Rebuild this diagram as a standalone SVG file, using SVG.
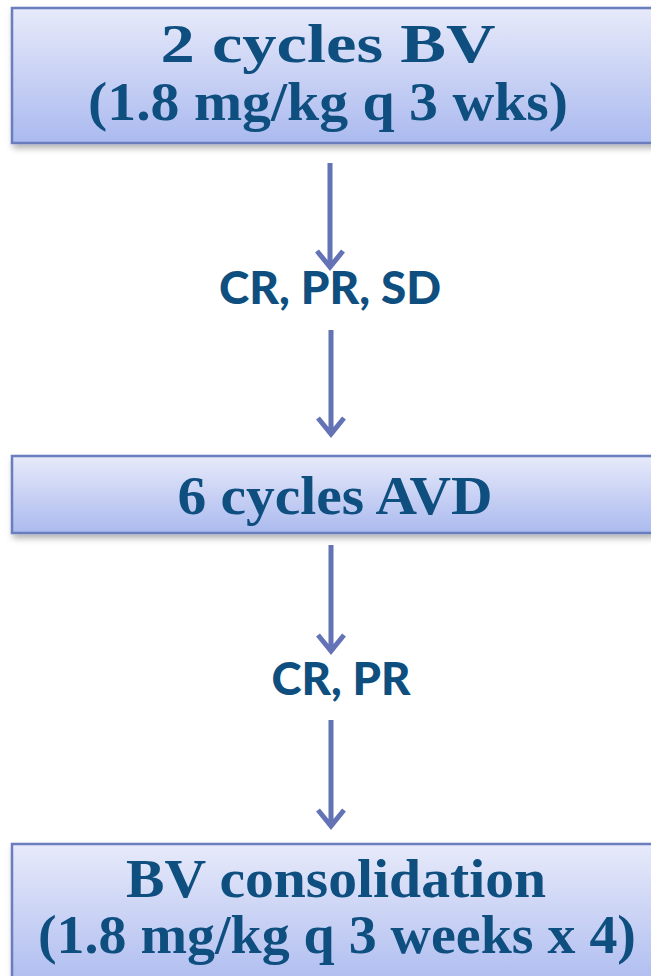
<svg xmlns="http://www.w3.org/2000/svg" width="651" height="976" viewBox="0 0 651 976">
<defs>
<linearGradient id="boxfill" x1="0" y1="0" x2="0" y2="1">
<stop offset="0" stop-color="#E7EAFA"/>
<stop offset="1" stop-color="#ABBAEF"/>
</linearGradient>
<filter id="shadow" x="-5%" y="-10%" width="115%" height="130%">
<feDropShadow dx="2" dy="4" stdDeviation="3" flood-color="#000" flood-opacity="0.3"/>
</filter>
<style>
.box{fill:url(#boxfill);stroke:#6A7EBE;stroke-width:2.5;filter:url(#shadow)}
.t{font-family:"Liberation Serif","DejaVu Serif",serif;font-weight:bold;font-size:54px;fill:#0F4F80;text-anchor:middle}
.l{font-family:Lato,"Open Sans",sans-serif;font-weight:900;font-size:45px;fill:#0F4F80;text-anchor:middle}
.a{fill:none;stroke:#6373B6;stroke-width:5;stroke-linejoin:miter}
</style>
</defs>
<g id="connectors">
<path class="a" d="M330,163 V265 M317,251 L330,267 L343,251"/>
<path class="a" d="M331,330 V432 M318,418 L331,434 L344,418"/>
<path class="a" d="M331,545 V649 M318,635 L331,651 L344,635"/>
<path class="a" d="M331,720 V824 M318,810 L331,826 L344,810"/>
</g>
<g id="label1"><text class="l" x="330" y="304" textLength="222" lengthAdjust="spacingAndGlyphs">CR, PR, SD</text></g>
<g id="label2"><text class="l" x="341" y="695" textLength="139" lengthAdjust="spacingAndGlyphs">CR,  PR</text></g>
<g id="node1">
<rect class="box" x="12" y="8" width="660" height="135"/>
<text class="t" x="328" y="62" textLength="335" lengthAdjust="spacingAndGlyphs">2 cycles BV</text>
<text class="t" x="328" y="120" textLength="480" lengthAdjust="spacingAndGlyphs">(1.8 mg/kg q 3 wks)</text>
</g>
<g id="node2">
<rect class="box" x="12" y="456" width="660" height="77"/>
<text class="t" x="335" y="514" textLength="315" lengthAdjust="spacingAndGlyphs">6 cycles AVD</text>
</g>
<g id="node3">
<rect class="box" x="12" y="844" width="660" height="150"/>
<text class="t" x="336" y="897" textLength="420" lengthAdjust="spacingAndGlyphs">BV consolidation</text>
<text class="t" x="337" y="953" textLength="598" lengthAdjust="spacingAndGlyphs">(1.8 mg/kg q 3 weeks x 4)</text>
</g>
</svg>
